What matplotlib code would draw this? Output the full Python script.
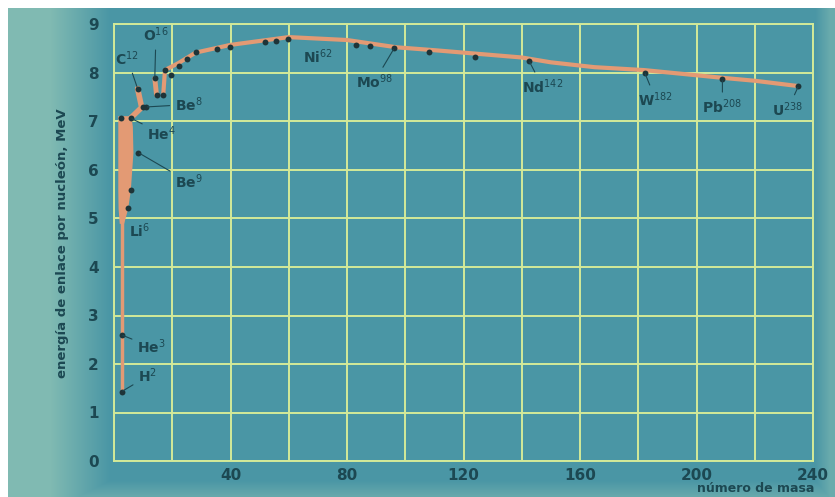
import numpy as np
import matplotlib
matplotlib.use("Agg")
import matplotlib.pyplot as plt

# ---- data ----
mass = [2.6, 2.6, 4.7, 5.8, 8.3, 2.3, 5.7, 10.0, 11.0, 8.1, 14.0, 14.6, 16.9, 17.5, 19.5,
        22.3, 25.0, 28.3, 35.4, 39.7, 51.7, 55.7, 59.9, 83.1, 87.9, 96.2, 108.2,
        123.9, 142.5, 182.2, 208.9, 235.0]
energy = [1.43, 2.60, 5.21, 5.59, 6.36, 7.07, 7.07, 7.29, 7.30, 7.68, 7.89, 7.55, 7.55, 8.06, 7.96,
          8.14, 8.29, 8.44, 8.49, 8.54, 8.63, 8.67, 8.70, 8.58, 8.56, 8.51, 8.44,
          8.34, 8.25, 8.01, 7.87, 7.73]

# orange trace
low_x = [2.6, 2.6, 2.6]
low_y = [1.43, 2.60, 5.0]
band_y = [4.9, 5.21, 5.59, 6.36, 6.9, 7.12]
band_left = [1.8, 1.4, 1.3, 1.3, 1.3, 1.3]
band_right = [3.3, 4.7, 5.6, 6.5, 6.3, 5.8]
segA_x = [5.7, 9.5, 8.1]
segA_y = [7.07, 7.29, 7.68]
segB_x = [14.0, 14.6]
segB_y = [7.89, 7.55]
main_x = [16.9, 17.5, 22.0, 28.0, 40.0, 60.0, 80.0, 97.0, 110.0, 140.0, 150.0, 165.0,
          182.0, 209.0, 220.0, 235.0]
main_y = [7.55, 8.06, 8.20, 8.42, 8.58, 8.74, 8.68, 8.53, 8.47, 8.32, 8.22, 8.12,
          8.06, 7.90, 7.84, 7.73]

# labels: (text, label x, label y, point x, point y)
labels = [
    ("H$^{2}$", 8.3, 1.75, 2.6, 1.43),
    ("He$^{3}$", 8.0, 2.35, 2.6, 2.60),
    ("Li$^{6}$", 5.0, 4.75, None, None),
    ("Be$^{9}$", 21.0, 5.75, 8.3, 6.36),
    ("He$^{4}$", 11.5, 6.75, 5.7, 7.07),
    ("Be$^{8}$", 21.0, 7.35, 11.0, 7.30),
    ("C$^{12}$", 0.5, 8.3, 8.1, 7.68),
    ("O$^{16}$", 10.0, 8.78, 14.0, 7.89),
    ("Ni$^{62}$", 65.0, 8.33, None, None),
    ("Mo$^{98}$", 83.0, 7.82, 96.2, 8.51),
    ("Nd$^{142}$", 140.0, 7.72, 142.5, 8.25),
    ("W$^{182}$", 180.0, 7.45, 182.2, 8.01),
    ("Pb$^{208}$", 202.0, 7.3, 208.9, 7.87),
    ("U$^{238}$", 226.0, 7.25, 235.0, 7.73),
]

xticks = list(range(0, 241, 20))
xticklabels = ["" if (t % 40 or t == 0) else str(t) for t in xticks]
yticks = list(range(0, 10))

# ---- colours ----
teal = np.array([74, 150, 165]) / 255
light = np.array([128, 186, 178]) / 255
grid_c = "#d3ea98"
orange = "#e39a74"
text_c = "#1c4852"
dot_c = "#1e3438"

W, H = 835, 497
fig = plt.figure(figsize=(W / 100, H / 100), dpi=100)
fig.patch.set_facecolor("white")

# background (scan paper)
bg = fig.add_axes([0, 0, 1, 1], zorder=-5)
cols = np.arange(W)
rows = np.arange(H)
wx = np.clip((110 - cols) / 60.0, 0, 1)
wx = np.maximum(wx, np.clip((cols - 815) / 15.0, 0, 1) * 0.6)
wy = np.clip((rows - 480) / 15.0, 0, 1) * 0.5
w = np.maximum(wx[None, :], wy[:, None])
img = teal[None, None, :] * (1 - w[..., None]) + light[None, None, :] * w[..., None]
img[:8, :, :] = 1.0
img[:, :8, :] = 1.0
bg.imshow(img, aspect="auto", extent=[0, 1, 0, 1], origin="upper")
bg.axis("off")

ax = fig.add_axes([114 / W, 1 - 461 / H, (813 - 114) / W, (461 - 24.5) / H])
ax.set_facecolor("none")
ax.set_xlim(0, 240)
ax.set_ylim(0, 9)
ax.set_xticks(xticks)
ax.set_xticklabels(xticklabels)
ax.set_yticks(yticks)
ax.grid(True, color=grid_c, lw=1.4, zorder=1)
for s in ax.spines.values():
    s.set_color(grid_c)
    s.set_linewidth(1.4)
ax.tick_params(length=0, colors=text_c, labelsize=11)
ax.tick_params(axis="y", pad=11)
ax.tick_params(axis="x", pad=5)
for lab in ax.get_xticklabels() + ax.get_yticklabels():
    lab.set_fontweight("bold")

# orange curve
ax.plot(low_x, low_y, color=orange, lw=2.5, zorder=2, solid_capstyle="round")
ax.fill_betweenx(band_y, band_left, band_right, color=orange, lw=0, zorder=2)
ax.plot(segA_x, segA_y, color=orange, lw=4, zorder=2, solid_capstyle="round")
ax.plot(segB_x, segB_y, color=orange, lw=3.5, zorder=2, solid_capstyle="round")
ax.plot(main_x, main_y, color=orange, lw=3, zorder=2, solid_capstyle="round")

# points
ax.scatter(mass, energy, s=18, color=dot_c, zorder=4, lw=0)

# labels
for txt, lx, ly, px, py in labels:
    if px is None:
        ax.text(lx, ly, txt, color=text_c, fontsize=10, fontweight="bold",
                va="center", ha="left", zorder=5)
    else:
        ax.annotate(txt, xy=(px, py), xytext=(lx, ly), color=text_c, fontsize=10,
                    fontweight="bold", va="center", ha="left", zorder=5,
                    arrowprops=dict(arrowstyle="-", color=text_c, lw=0.8,
                                    shrinkA=2, shrinkB=1))

ax.set_ylabel("energía de enlace por nucleón, MeV", color=text_c, fontsize=9.5,
              fontweight="bold", labelpad=14)
fig.text(814 / W, 1 - 488 / H, "número de masa", color=text_c, fontsize=9,
         fontweight="bold", ha="right", va="center")

fig.savefig("out.png", dpi=100)
